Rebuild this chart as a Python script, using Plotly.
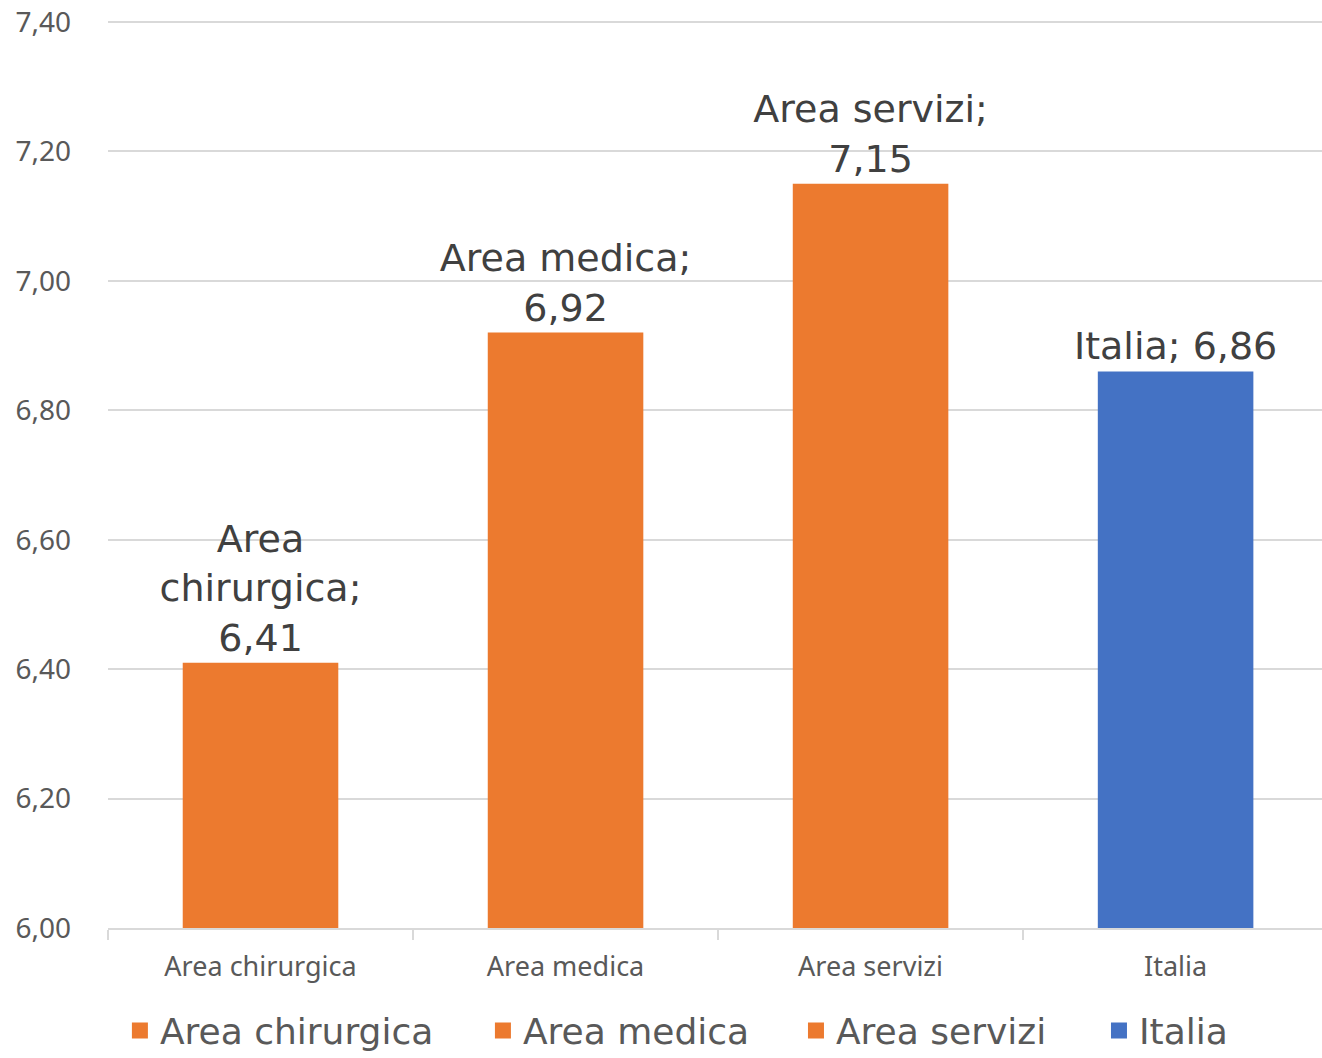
import plotly.graph_objects as go

categories = ["Area chirurgica", "Area medica", "Area servizi", "Italia"]
values = [6.41, 6.92, 7.15, 6.86]
label_names = ["Area<br>chirurgica;", "Area medica;", "Area servizi;", "Italia;"]
label_breaks = ["<br>", "<br>", "<br>", " "]
colors = ["#EC7A2F", "#EC7A2F", "#EC7A2F", "#4472C4"]
y_ticks = [6.0, 6.2, 6.4, 6.6, 6.8, 7.0, 7.2, 7.4]
legend_x = [0.0907, 0.3653, 0.6021, 0.8313]  # legend entry positions (container fraction)

fig = go.Figure()
for cat, val, lab, br, col in zip(categories, values, label_names, label_breaks, colors):
    fig.add_trace(go.Bar(
        x=[cat], y=[val], name=cat, showlegend=False,
        marker=dict(color=col, line=dict(width=0)),
        text=[lab + br + f"{val:.2f}".replace(".", ",")],
        textposition="outside", constraintext="none",
        textfont=dict(family="DejaVu Sans", size=38, color="#404040"),
        cliponaxis=False,
    ))
# legend entries with square swatches, one legend per entry
legend_ids = ["legend", "legend2", "legend3", "legend4"]
for cat, col, lid in zip(categories, colors, legend_ids):
    fig.add_trace(go.Scatter(
        x=[None], y=[None], mode="markers", name=cat, legend=lid,
        marker=dict(symbol="square", size=20, color=col),
    ))

legend_style = dict(orientation="h", xanchor="left", xref="container",
                    y=0.026, yanchor="middle", yref="container",
                    font=dict(family="DejaVu Sans", size=36, color="#595959"),
                    itemwidth=30, itemsizing="trace", bgcolor="rgba(0,0,0,0)")

layout_legends = {lid: dict(x=lx, **legend_style) for lid, lx in zip(legend_ids, legend_x)}

fig.update_layout(
    width=1322, height=1058,
    margin=dict(l=108, r=0, t=20, b=130, autoexpand=False),
    paper_bgcolor="white", plot_bgcolor="white",
    barmode="overlay", bargap=0.49,
    separators=",.",
    showlegend=True,
    xaxis=dict(
        categoryorder="array", categoryarray=categories,
        range=[-0.5, 3.48],
        showline=True, linecolor="#D9D9D9", linewidth=2,
        ticks="outside", tickson="boundaries", ticklen=10, tickcolor="#D9D9D9", tickwidth=2,
        tickfont=dict(family="Noto Sans", size=27, color="#595959"),
        ticklabelstandoff=14,
        showgrid=False, automargin=False,
    ),
    yaxis=dict(
        range=[6.0, 7.403], tickvals=y_ticks, tickformat=".2f",
        showgrid=True, gridcolor="#D9D9D9", gridwidth=2,
        zeroline=False, showline=False,
        ticklabelstandoff=36,
        tickfont=dict(family="Noto Sans", size=28, color="#595959"),
        automargin=False,
    ),
    **layout_legends,
)

fig.write_html("out.html", config={"displayModeBar": False},
               post_script="document.body.style.margin='0';document.body.style.overflow='hidden';")
